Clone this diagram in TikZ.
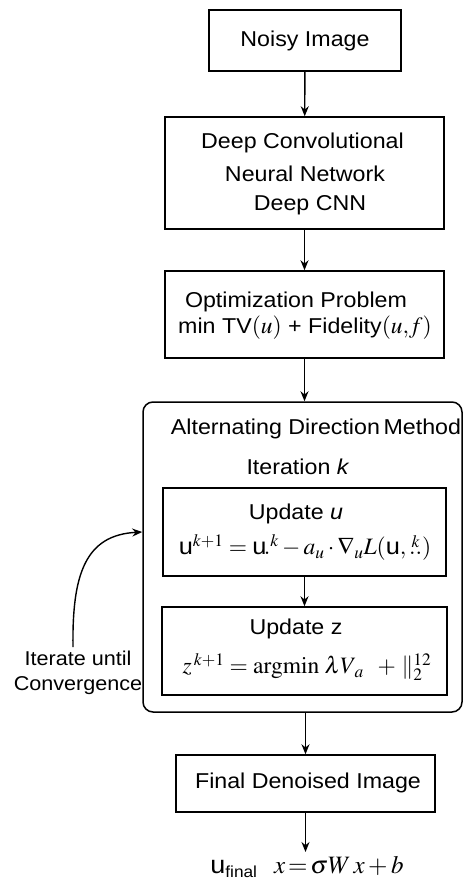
\documentclass[tikz,border=0pt]{standalone}
\usepackage{amsmath}
\usepackage{mathptmx}
\usepackage[no-math]{fontspec}
\setmainfont{Liberation Sans}[FakeStretch=1.08]
\usetikzlibrary{arrows.meta}
\tikzset{
  box/.style={draw, line width=1.5pt, inner sep=0pt},
  rbox/.style={draw, line width=1.5pt, inner sep=0pt, rounded corners=10pt},
  txt/.style={inner sep=0pt, font=\fontsize{21.5}{26}\selectfont},
  mtxt/.style={inner sep=0pt, font=\fontsize{23.5}{28}\selectfont},
  arr/.style={line width=1.4pt, -{Stealth[length=10pt,width=8pt]}}
}
\begin{document}
\begin{tikzpicture}[x=1pt,y=-1pt]
\useasboundingbox (0,0) rectangle (464,885);
% boxes
\node[box, minimum width=192pt, minimum height=61pt] (noisy) at (305,40.5) {};
\node[box, minimum width=279pt, minimum height=112pt] (cnn) at (304.5,173) {};
\node[box, minimum width=279pt, minimum height=87pt] (opt) at (304.5,314.5) {};
\node[rbox, minimum width=319pt, minimum height=310pt] (adm) at (302.5,557) {};
\node[box, minimum width=283pt, minimum height=88pt] (upu) at (304.5,532) {};
\node[box, minimum width=285pt, minimum height=88pt] (upz) at (304.5,651) {};
\node[box, minimum width=259pt, minimum height=57pt] (fin) at (305.5,783.5) {};
% texts
\node[txt] (tnoisy) at (305,41) {Noisy Image};
\node[txt] (tcnn1) at (302.5,143) {Deep Convolutional};
\node[txt] (tcnn2) at (305,174) {Neural Network};
\node[txt] (tcnn3) at (310,205) {Deep CNN};
\node[txt] (topt1) at (296,302) {Optimization Problem};
\node[txt] (topt2) at (305,328) {min TV{\fontsize{23.5}{28}\selectfont$(u)$} + Fidelity{\fontsize{23.5}{28}\selectfont$(u{,}f)$}};
\node[txt] (tadm) at (316,429) {Alternating Direction\,Method};
\node[txt] (titer) at (298,467) {Iteration \textit{k}};
\node[txt] (tupu) at (296,514) {Update \textit{u}};
\node[mtxt] (tfu) at (305,547) {$\text{u}^{k+1} = \text{u}\mkern-2mu{.}^{k} - a_u\cdot\nabla_u L(\text{u},\overset{k}{..})$};
\node[txt] (tupz) at (296,629) {Update z};
\node[mtxt] (tfz) at (307,667) {$z^{\,k+1} = \operatorname{argmin}\,\lambda\boldsymbol{V}_{\!a}\;\;+\,\|^{12}_{2}$};
\node[txt] (tfin) at (308,783) {Final Denoised Image};
\node[mtxt, anchor=north, font=\fontsize{25}{28}\selectfont] (tout) at (307,856) {$\text{u}_{\text{\fontsize{16}{16}\selectfont final}}\;\;\; x \,{=}\, \sigma W\,x + b$};
\node[txt, align=center, font=\fontsize{20}{25}\selectfont] (titer2) at (78,673) {Iterate until\\Convergence};
% connectors
\draw[arr] (noisy) -- (cnn);
\draw[arr] (cnn) -- (opt);
\draw[arr] (opt) -- (opt.south |- adm.north);
\draw[arr] (upu) -- (upz.north -| upu.south);
\draw[arr] (adm.south -| fin.north) -- (fin);
\coordinate (endout) at (305.5,852);
\draw[arr] (fin.south) -- (endout);
\coordinate (cstart) at (73,647);
\draw[arr] (cstart) .. controls (72,575) and (85,535) .. (adm.west |- 0,532);
\end{tikzpicture}
\end{document}
